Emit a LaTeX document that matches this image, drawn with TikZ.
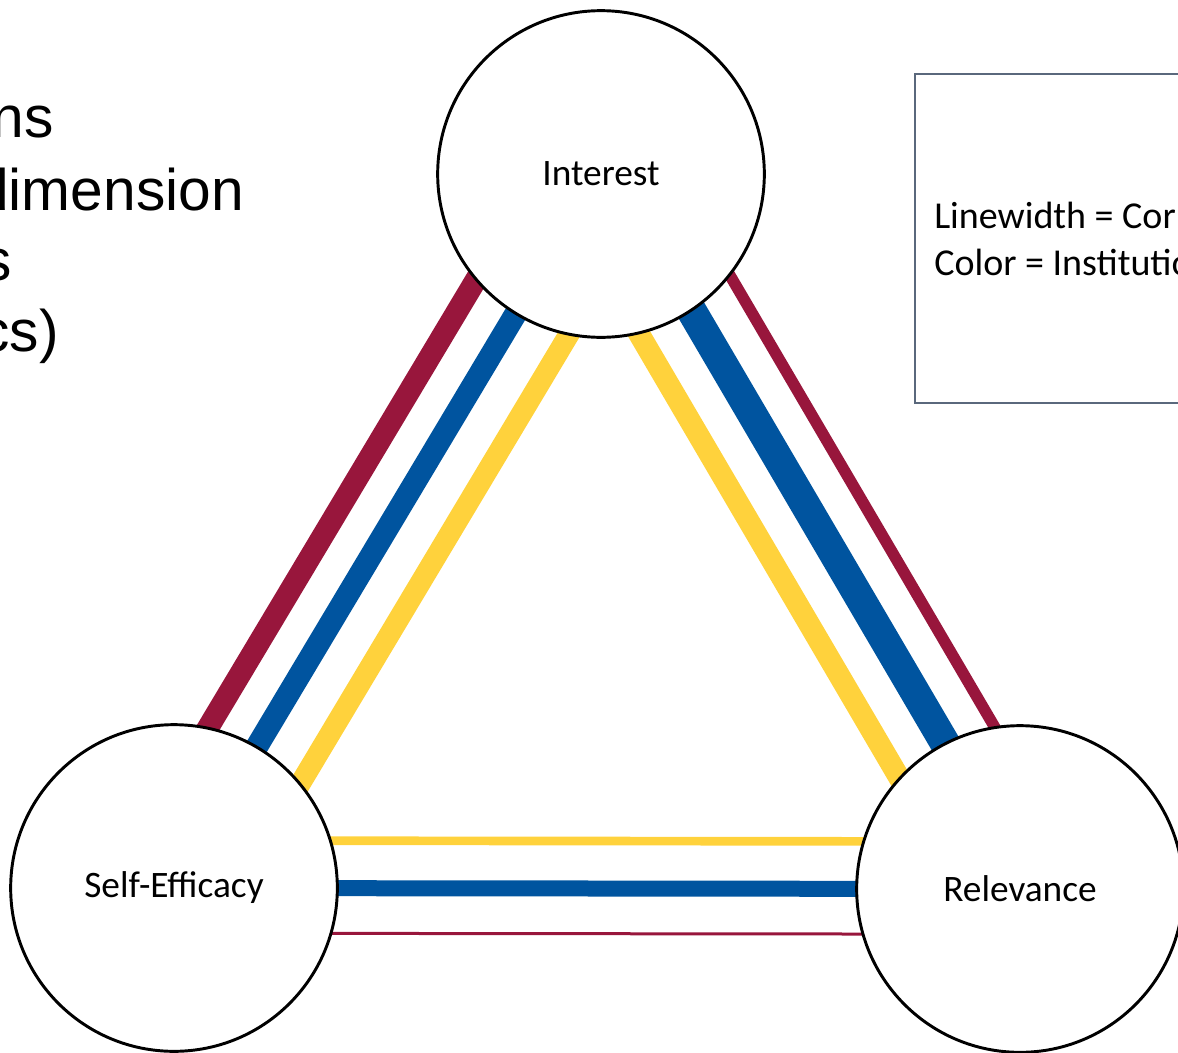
\documentclass[tikz,border=0pt]{standalone}
\usepackage{fontspec}
\setmainfont{Carlito}
\newfontfamily\arialfont{Liberation Sans}
\usetikzlibrary{calc}

\definecolor{crimson}{RGB}{152,22,60}
\definecolor{instblue}{RGB}{0,84,159}
\definecolor{instyellow}{RGB}{255,210,60}
\definecolor{boxframe}{RGB}{90,104,124}

% one coloured band between two dimensions, shifted sideways from the centre line
\newcommand\corrband[5]{%
  \draw[line width=#2, draw=#1] ($(#3)!#5!90:(#4)$) -- ($(#4)!#5!-90:(#3)$);}

\begin{document}
\begin{tikzpicture}[x=0.75pt, y=-0.75pt,
  dimension/.style={circle, draw=black, line width=2.2pt, fill=white,
    minimum size=245pt, inner sep=0pt, font=\fontsize{28}{33}\selectfont},
  sidetext/.style={anchor=base east, inner sep=0pt,
    font=\arialfont\fontsize{44}{53}\selectfont},
  legendbox/.style={draw=boxframe, line width=1.1pt}]

\useasboundingbox (0,0) rectangle (1178,1053);

% the three dimensions
\coordinate (I) at (601,174);
\coordinate (S) at (174,888);
\coordinate (R) at (1020,889);

% legend frame
\draw[legendbox] (915,74) rectangle (1195,403);
\node[anchor=base west, inner sep=0pt, align=left,
  font=\fontsize{28.5}{35}\selectfont] (legend) at (934,275)
  {Linewidth = Corr\\Color = Institutio};

% side heading
\node[sidetext] (h1) at (54,137) {ns};
\node[sidetext] (h2) at (244,210) {dimension};
\node[sidetext] (h3) at (12,280) {s};
\node[sidetext] (h4) at (59,351) {cs)};

% Interest -- Self-Efficacy
\corrband{crimson}{16.5pt}{I}{S}{-39.75pt}
\corrband{instblue}{16.9pt}{I}{S}{-1.1pt}
\corrband{instyellow}{15.75pt}{I}{S}{41.1pt}

% Interest -- Relevance
\corrband{instyellow}{16.2pt}{I}{R}{-36pt}
\corrband{instblue}{22.5pt}{I}{R}{6.75pt}
\corrband{crimson}{8.6pt}{I}{R}{45pt}

% Self-Efficacy -- Relevance
\corrband{instyellow}{6.5pt}{S}{R}{35.6pt}
\corrband{instblue}{12pt}{S}{R}{0pt}
\corrband{crimson}{2.25pt}{S}{R}{-33.9pt}

% circles on top of the band ends
\node[dimension] (interest) at (I) {Interest};
\node[dimension] (selfeff) at (S) {Self-Efficacy};
\node[dimension] (relevance) at (R) {Relevance};

\end{tikzpicture}
\end{document}
